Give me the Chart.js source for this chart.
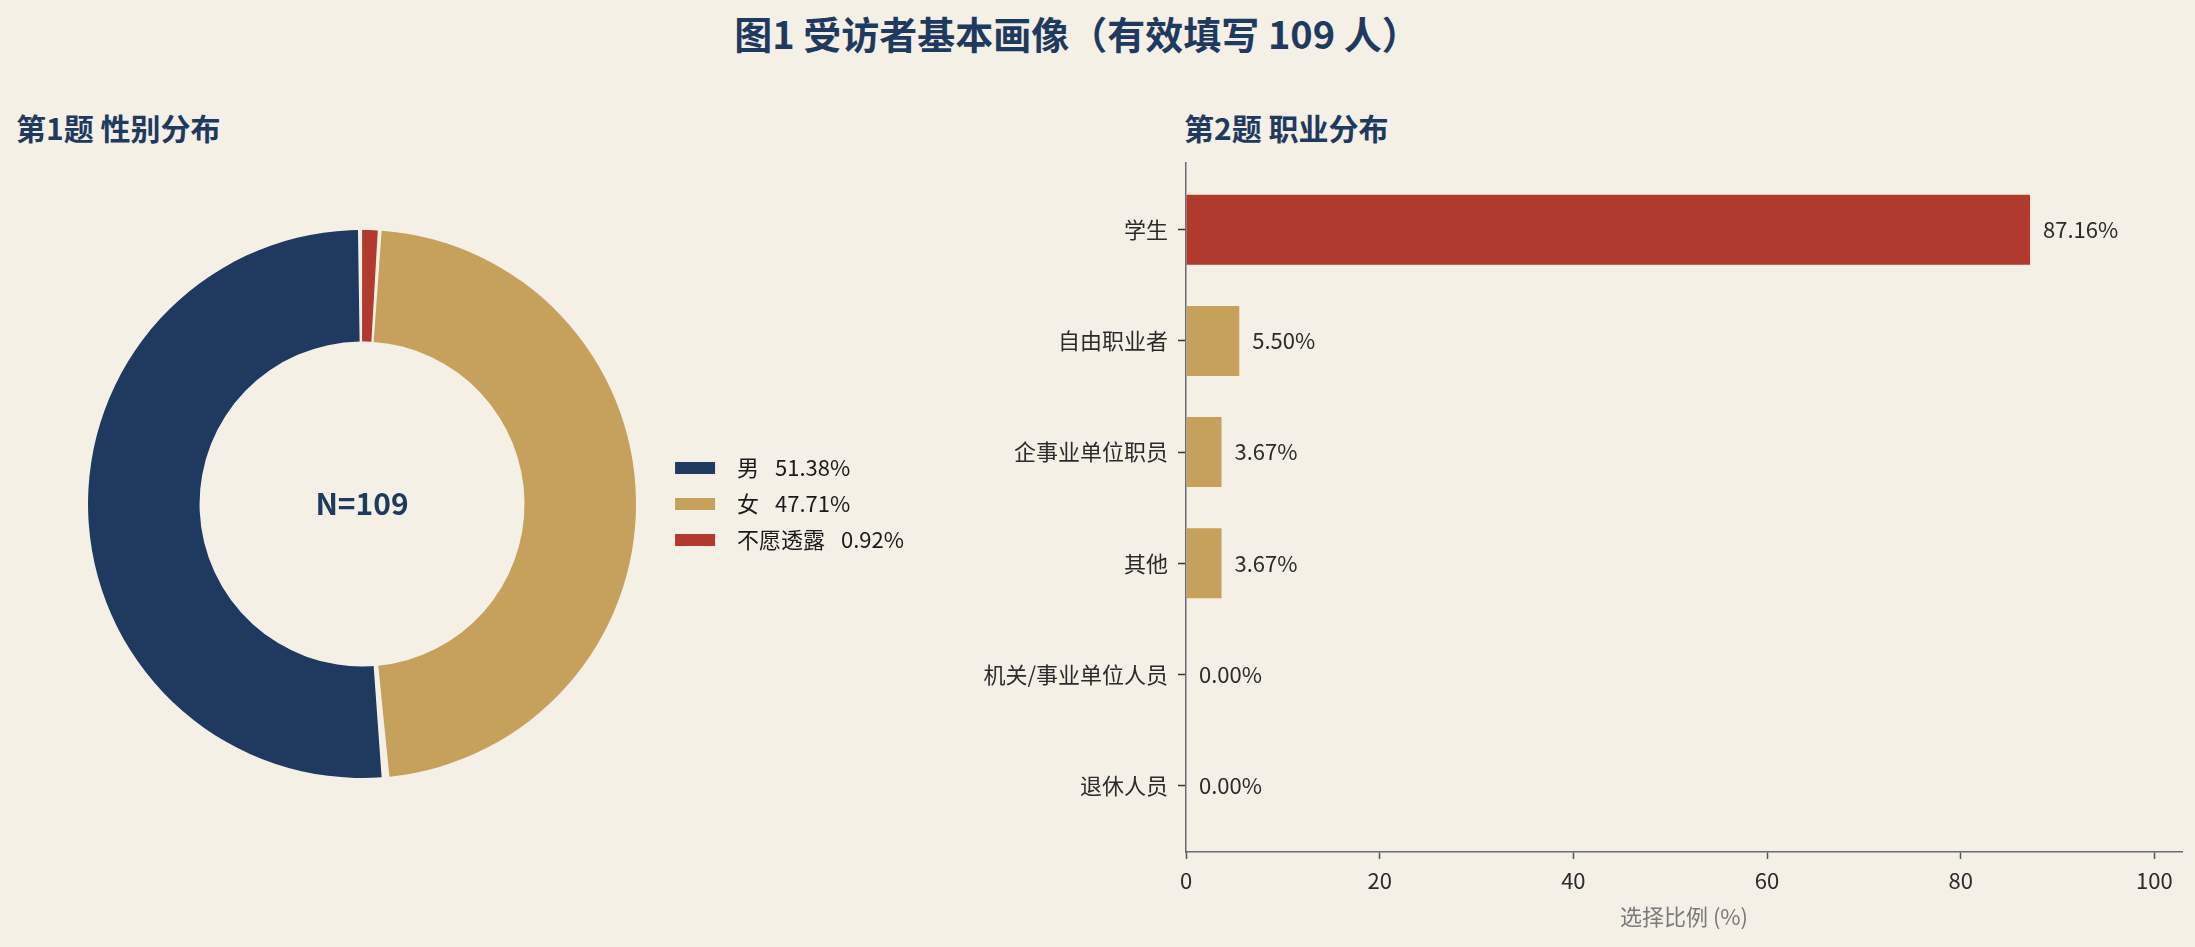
<!DOCTYPE html>
<html lang="zh">
<head>
<meta charset="utf-8">
<title>图1 受访者基本画像</title>
<script src="https://cdn.jsdelivr.net/npm/chart.js@4.4.1/dist/chart.umd.min.js"></script>
<style>
  html, body { margin: 0; padding: 0; background: #f5f0e6; }
  body {
    width: 2195px; height: 947px; position: relative; overflow: hidden;
    font-family: "Noto Sans CJK SC", "Noto Sans", sans-serif;
  }
  .title {
    position: absolute; top: 10px; left: 1077px; transform: translateX(-50%);
    font-size: 38px; font-weight: 700; color: #1f3a5f; white-space: nowrap; line-height: 46px;
  }
  .sub {
    position: absolute; top: 109px; font-size: 30px; font-weight: 700;
    color: #1f3a5f; line-height: 36px; white-space: nowrap;
  }
  #pieWrap { position: absolute; left: 0; top: 230px; width: 914px; height: 548px; }
  #barWrap { position: absolute; left: 950px; top: 140px; width: 1245px; height: 807px; }
</style>
</head>
<body>
<div class="title">图1 受访者基本画像（有效填写 109 人）</div>
<div class="sub" style="left:16px">第1题 性别分布</div>
<div class="sub" style="left:1184px">第2题 职业分布</div>
<div id="pieWrap"><canvas id="genderChart"></canvas></div>
<div id="barWrap"><canvas id="jobChart"></canvas></div>

<script>
// ── Data ──────────────────────────────────────────────────

const genderLabels = ['男', '女', '不愿透露'];
const genderValues = [51.38, 47.71, 0.92];
const sampleSize = 109;

const jobCategories = ['学生', '自由职业者', '企事业单位职员', '其他', '机关/事业单位人员', '退休人员'];
const jobValues = [87.16, 5.50, 3.67, 3.67, 0.00, 0.00];
const xTicks = [0, 20, 40, 60, 80, 100];

// ── Style ─────────────────────────────────────────────────

const NAVY = '#1f3a5f';
const TAN = '#c6a15b';
const RED = '#b03a2e';
const TEXT = '#2b2b2b';
const AXIS = '#666a73';
const FONT = '"Noto Sans CJK SC", "Noto Sans", sans-serif';

Chart.defaults.font.family = FONT;
Chart.defaults.color = TEXT;
Chart.defaults.animation = false;

// ── Gender doughnut ───────────────────────────────────────

const centerText = {
    id: 'centerText',
    afterDraw(chart) {
        const arc = chart.getDatasetMeta(0).data[0];
        const ctx = chart.ctx;
        ctx.save();
        ctx.font = `bold 30px ${FONT}`;
        ctx.fillStyle = NAVY;
        ctx.textAlign = 'center';
        ctx.textBaseline = 'middle';
        ctx.fillText(`N=${sampleSize}`, arc.x, arc.y);
        ctx.restore();
    }
};

// matplotlib draws counter-clockwise from the top; Chart.js goes clockwise,
// so feed the slices in reverse and flip the legend back.
const genderColors = [NAVY, TAN, RED];
const genderText = genderLabels.map((l, i) => `\u2002${l} \u2002${genderValues[i].toFixed(2)}%`);

new Chart(document.getElementById('genderChart'), {
    type: 'doughnut',
    data: {
        labels: genderText.slice().reverse(),
        datasets: [{
            data: genderValues.slice().reverse(),
            backgroundColor: genderColors.slice().reverse(),
            borderWidth: 0,
            spacing: 4
        }]
    },
    options: {
        responsive: true,
        maintainAspectRatio: false,
        events: [],
        cutout: '59%',
        layout: { padding: { left: 63 } },
        plugins: {
            tooltip: { enabled: false },
            legend: {
                position: 'right',
                reverse: true,
                labels: {
                    boxWidth: 40,
                    boxHeight: 12,
                    padding: 14,
                    color: '#1a1a1a',
                    font: { size: 22 }
                }
            }
        }
    },
    plugins: [centerText]
});

// ── Occupation bars ───────────────────────────────────────

const barLabels = {
    id: 'barLabels',
    afterDatasetsDraw(chart) {
        const ctx = chart.ctx;
        const meta = chart.getDatasetMeta(0);
        ctx.save();
        ctx.font = `22px ${FONT}`;
        ctx.fillStyle = TEXT;
        ctx.textBaseline = 'middle';
        meta.data.forEach((bar, i) => {
            ctx.fillText(jobValues[i].toFixed(2) + '%', bar.x + 13, bar.y);
        });
        ctx.restore();
    }
};

new Chart(document.getElementById('jobChart'), {
    type: 'bar',
    data: {
        datasets: [{
            data: jobCategories.map((c, i) => ({ x: jobValues[i], y: i })),
            backgroundColor: jobValues.map((v, i) => i === 0 ? RED : TAN),
            categoryPercentage: 0.63,
            barPercentage: 1
        }]
    },
    options: {
        indexAxis: 'y',
        responsive: true,
        maintainAspectRatio: false,
        events: [],
        layout: { padding: { top: 20, right: 13 } },
        plugins: {
            legend: { display: false },
            tooltip: { enabled: false }
        },
        scales: {
            y: {
                type: 'linear',
                offset: false,
                reverse: true,
                min: -0.6,
                max: jobCategories.length - 0.4,
                afterBuildTicks: axis => { axis.ticks = jobCategories.map((c, i) => ({ value: i })); },
                afterFit: axis => { axis.width = 236; },
                ticks: {
                    callback: v => jobCategories[v],
                    color: TEXT,
                    padding: 10,
                    font: { size: 22 }
                },
                grid: {
                    offset: false, drawOnChartArea: false, drawTicks: true,
                    tickLength: 8, tickColor: '#333333', tickWidth: 1.5
                },
                border: { display: true, color: AXIS, width: 1.5 }
            },
            x: {
                type: 'linear',
                min: 0,
                max: 102.85,
                afterBuildTicks: axis => { axis.ticks = xTicks.map(v => ({ value: v })); },
                afterFit: axis => { axis.height = 95; },
                ticks: {
                    color: TEXT,
                    padding: 8,
                    font: { size: 22 }
                },
                grid: {
                    drawOnChartArea: false, drawTicks: true,
                    tickLength: 7, tickColor: '#555555', tickWidth: 1.5
                },
                border: { display: true, color: AXIS, width: 1.5 },
                title: {
                    display: true,
                    text: '选择比例 (%)',
                    color: '#7a7a7a',
                    font: { size: 22 },
                    padding: { top: 4, bottom: 17 }
                }
            }
        }
    },
    plugins: [barLabels]
});
</script>
</body>
</html>
